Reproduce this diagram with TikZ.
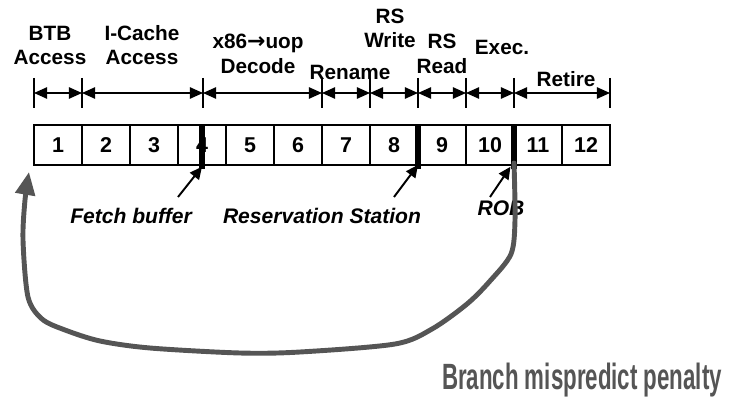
\documentclass[tikz,border=0pt]{standalone}
\usepackage{graphicx}
\usepackage{fontspec}
\setmainfont{Liberation Sans}
\newfontfamily\arrowfont{DejaVu Sans}
\usetikzlibrary{arrows.meta}
\usetikzlibrary{positioning}
\definecolor{loopgray}{RGB}{85,85,85}

\begin{document}
\begin{tikzpicture}[x=0.02cm, y=-0.02cm,
    cell/.style={draw, line width=1.1pt, minimum width=0.96cm, minimum height=0.8cm, inner sep=0pt, outer sep=0pt, font=\fontsize{12.2}{14}\selectfont\bfseries},
    lbl/.style={anchor=base, align=center, inner sep=0pt, font=\fontsize{11.8}{14}\selectfont\bfseries},
    ital/.style={anchor=base, inner sep=0pt, font=\fontsize{12}{14}\selectfont\bfseries\itshape},
    tick/.style={line width=0.6pt},
    dim/.style={line width=0.9pt, {Triangle[length=7.5pt, width=6.5pt]}-{Triangle[length=7.5pt, width=6.5pt]}},
    bar/.style={line width=3.4pt},
    ptr/.style={line width=1.1pt, -{Triangle[length=7pt, width=6.5pt]}},
    loop/.style={line width=2.8pt, loopgray, line cap=round, -{Triangle[length=13pt, width=11pt]}}]

    \useasboundingbox (0,0) rectangle (733,402);

    % pipeline stages
    \foreach \n in {1,...,12}
        \node[cell] (c\n) at ({10+48*\n},145) {\n};

    % stage boundaries
    \foreach \x [count=\i] in {34,82,203,322,370,418,466,514,610} {
        \coordinate (t\i) at (\x,93);
        \draw[tick] (\x,78) -- (\x,108);
    }
    \foreach \i/\j in {1/2,2/3,3/4,4/5,5/6,6/7,7/8,8/9}
        \draw[dim] (t\i) -- (t\j);

    \node[lbl] (btb) at (50,65) {BTB\\Access};
    \node[lbl] (icache) at (142,65) {I-Cache\\Access};
    \node[lbl] (decode) at (258,73) {x86{\arrowfont\fontsize{12.5}{14}\selectfont →}uop\\Decode};
    \node[lbl] (rename) at (350,80) {Rename};
    \node[lbl] (rswrite) at (390,48) {RS\\Write};
    \node[lbl] (rsread) at (442,73) {RS\\Read};
    \node[lbl] (exec) at (502,55) {Exec.};
    \node[lbl] (retire) at (566,87) {Retire};

    % buffers
    \draw[bar] (c4.north) -- ([yshift=-2pt]c4.south);
    \draw[bar] (c8.north east) -- ([yshift=-2pt]c8.south east);
    \draw[bar] (c10.north east) -- ([yshift=-2pt]c10.south east);

    \coordinate (fb) at (178,197);
    \coordinate (rs) at (394,197);
    \coordinate (rb) at (490,197);
    \draw[ptr] (fb) -- ([yshift=-1pt]c4.south);
    \draw[ptr] (rs) -- (c8.south east);
    \draw[ptr] (rb) -- ([xshift=-2pt,yshift=-1pt]c10.south east);

    \node[ital] (fetchbuf) at (131,223) {Fetch buffer};
    \node[ital] (resstat) at (322,223) {Reservation Station};
    \node[ital] (rob) at (501,215) {ROB};

    % mispredict loop
    \draw[loop] plot[smooth, tension=0.5] coordinates {(514,163) (515,220) (511,254) (490,281) (467,304) (432,329) (395,344) (300,352) (240,353) (150,348) (100,341) (65,330) (42,319) (28,297) (23,240) (25,200) (29,172)};

    \node[anchor=base, inner sep=0pt, text=loopgray, font=\fontsize{20.8}{24}\selectfont\bfseries] (penalty) at (582,389) {\scalebox{0.61}[1]{Branch mispredict penalty}};

\end{tikzpicture}
\end{document}
